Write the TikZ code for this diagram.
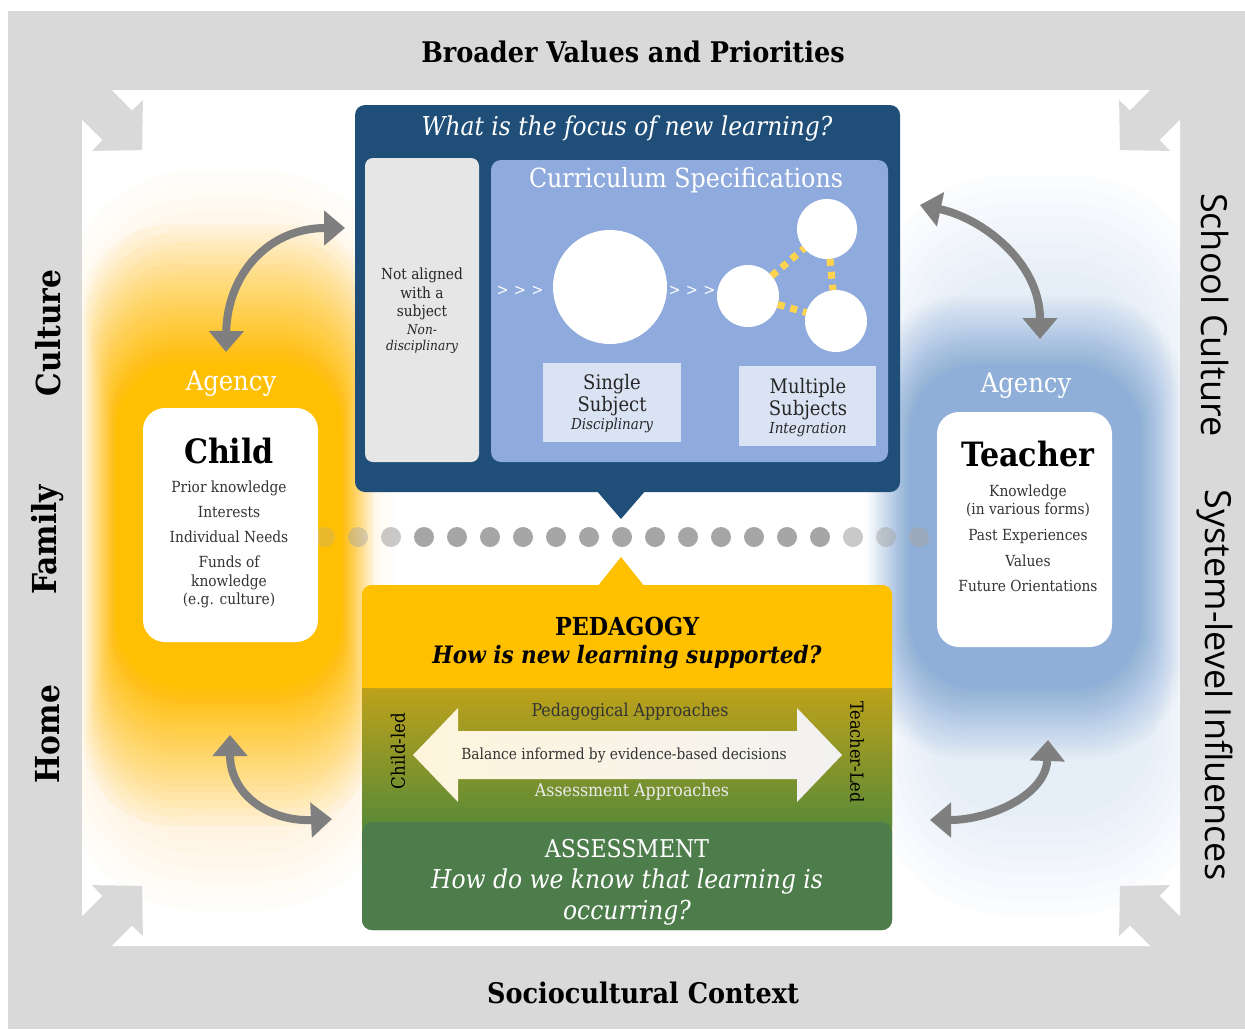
\documentclass[tikz,border=0pt]{standalone}
\usepackage{fontspec}
\setmainfont{DejaVu Serif Condensed}
\newfontfamily\sidesans{Open Sans}
\usetikzlibrary{arrows.meta}
\definecolor{framegrey}{HTML}{D9D9D9}
\definecolor{navy}{HTML}{1F4E79}
\definecolor{midblue}{HTML}{8FAADC}
\definecolor{lgbox}{HTML}{E7E6E6}
\definecolor{paleblue}{HTML}{DAE3F3}
\definecolor{dotgrey}{HTML}{A6A6A6}
\definecolor{gold}{HTML}{FFC000}
\definecolor{assessgreen}{HTML}{4E7D4C}
\definecolor{olivetop}{HTML}{BFA21A}
\definecolor{midgreen}{HTML}{5A8A37}
\definecolor{arrowgrey}{HTML}{7F7F7F}
\definecolor{glowblue}{HTML}{7FA7D8}
\definecolor{dotyellow}{HTML}{FFD34D}
\definecolor{creamy}{HTML}{FFF5DC}
\definecolor{offwhite}{HTML}{F2F2F2}
\begin{document}
\begin{tikzpicture}[x=1pt,y=-1pt,
  f15/.style={font=\fontsize{15.3}{18.5}\selectfont},
  f16/.style={font=\fontsize{16}{19}\selectfont},
  f17/.style={font=\fontsize{17.6}{21}\selectfont},
  f20/.style={font=\fontsize{20}{24}\selectfont},
  f34/.style={font=\bfseries\fontsize{33.5}{38}\selectfont},
  sidelabel/.style={font=\bfseries\fontsize{33}{38}\selectfont},
  rightlabel/.style={font=\sidesans\fontsize{36}{40}\selectfont},
  heading/.style={font=\bfseries\fontsize{28.4}{33}\selectfont},
  garrow/.style={draw=arrowgrey, line width=8pt,
     {Triangle[width=34pt,length=21pt]}-{Triangle[width=34pt,length=21pt]}},
  boxshape/.style={inner sep=0pt, outer sep=0pt},
  dotstyle/.style={circle, fill=dotgrey, minimum size=20pt, inner sep=0pt},
  cornerarrow/.style={fill=framegrey},
  whitecircle/.style={circle, fill=white, inner sep=0pt, outer sep=0pt},
  yellowdots/.style={draw=dotyellow, line width=7pt, dash pattern=on 7pt off 6pt}
]
\useasboundingbox (0,0) rectangle (1245,1029);
\fill[white] (0,0) rectangle (1245,1029);
\fill[framegrey] (8,11) rectangle (1245,1029);
\fill[white, rounded corners=12pt] (82,90) rectangle (1180,946);

% glows
\begin{scope}
\clip (82,90) rectangle (1180,946);
% broad faint bands
\foreach \k in {0,...,7} {
  \pgfmathsetmacro\a{165-7*\k}
  \pgfmathsetmacro\b{370-14*\k}
  \pgfmathsetmacro\r{0.8*\a}
  \fill[gold, fill opacity=0.02, rounded corners=\r pt] ({229-\a},{540-\b}) rectangle ({229+\a},{540+\b});
  \fill[glowblue, fill opacity=0.022, rounded corners=\r pt] ({1040-\a},{545-\b}) rectangle ({1040+\a},{545+\b});
}
% cores with linear fade
\foreach \k in {1,...,48} {
  \pgfmathsetmacro\t{(1-0.94^\k)/0.9486}
  \pgfmathsetmacro\ay{148-36*\t}
  \pgfmathsetmacro\by{310-150*\t}
  \pgfmathsetmacro\ry{0.6*\ay}
  \fill[gold, fill opacity=0.06, rounded corners=\ry pt] ({229-\ay},{525-\by}) rectangle ({229+\ay},{525+\by});
}
\foreach \k in {1,...,40} {
  \pgfmathsetmacro\t{(1-0.965^\k)/0.7594}
  \pgfmathsetmacro\ab{160-45*\t}
  \pgfmathsetmacro\bb{235-75*\t}
  \pgfmathsetmacro\rb{0.6*\ab}
  \fill[glowblue, fill opacity=0.035, rounded corners=\rb pt] ({1025-\ab},{527-\bb}) rectangle ({1025+\ab},{527+\bb});
}
\end{scope}

% corner arrows
\foreach \cx/\cy/\sx/\sy in {82/90/1/1,1180/90/-1/1,82/946/1/-1,1180/946/-1/-1} {
  \begin{scope}[shift={(\cx,\cy)}, xscale=\sx, yscale=\sy]
    \fill[cornerarrow] (4.2,-25.5) -- (50.2,20.5) -- (60.9,9.9) -- (60.1,60.1) -- (9.9,60.9) -- (20.5,50.2) -- (-25.5,4.2) -- cycle;
  \end{scope}
}

% frame labels
\node (broader) [heading] at (633,52) {Broader Values and Priorities};
\node (socio) [heading] at (643,993) {Sociocultural Context};
\node (culture) [sidelabel, rotate=90] at (48,333) {Culture};
\node (family) [sidelabel, rotate=90] at (48,540) {Family};
\node (home) [sidelabel, rotate=90] at (48,734) {Home};
\node (school) [rightlabel, rotate=-90] at (1215,315) {School Culture};
\node (system) [rightlabel, rotate=-90] at (1215,685) {System-level Influences};

% dots row
\foreach \k/\op in {0/0.25,1/0.45,2/0.6,3/1,4/1,5/1,6/1,7/1,8/1,9/1,10/1,11/1,12/1,13/1,14/1,15/1,16/0.6,17/0.5,18/0.55} {
  \node (dot\k) [dotstyle, fill opacity=\op] at ({325+33*\k},537) {};
}

% focus panel
\node (focuspanel) [boxshape, fill=navy, rounded corners=10pt, minimum width=545pt, minimum height=387pt] at (627.5,298.5) {};
\fill[navy] (596,490) -- (621,519) -- (646,490) -- cycle;
\node (focustitle) [font=\itshape\fontsize{26}{31}\selectfont, text=white] at (627,129) {What is the focus of new learning?};
\node (nonalign) [boxshape, fill=lgbox, rounded corners=8pt, minimum width=114pt, minimum height=304pt] at (422,310) {};
\node (nonaligntext) [f15, align=center, text=black!85] at (422,311) {Not aligned\\with a\\subject\\[-1pt]{\itshape\fontsize{13.5}{17}\selectfont Non-}\\[-2pt]{\itshape\fontsize{13.5}{17}\selectfont disciplinary}};
\node (curric) [boxshape, fill=midblue, rounded corners=10pt, minimum width=397pt, minimum height=302pt] at (689.5,311) {};
\node (curtitle) [font=\fontsize{26.4}{31}\selectfont, text=white] at (686,180) {Curriculum Specifications};
\node (chev1) [f16, text=white] at (520,291) {>\,\,>\,\,>};
\node (chev2) [f16, text=white] at (692,291) {>\,\,>\,\,>};
\node (bigc) [whitecircle, minimum size=114pt] at (610,287) {};
\node (c1) [whitecircle, minimum size=62pt] at (748,296) {};
\node (c2) [whitecircle, minimum size=60pt] at (827,229) {};
\node (c3) [whitecircle, minimum size=62pt] at (836,321) {};
\draw[yellowdots] (c1) -- (c2);
\draw[yellowdots] (c1) -- (c3);
\draw[yellowdots] (c2) -- (c3);
\node (single) [boxshape, fill=paleblue, minimum width=138pt, minimum height=79pt] at (612,402.5) {};
\node (singletext) [f20, align=center, text=black!85] at (612,404) {Single\\[-2pt]Subject\\[-6pt]{\itshape\fontsize{15}{18}\selectfont Disciplinary}};
\node (multi) [boxshape, fill=paleblue, minimum width=137pt, minimum height=80pt] at (807.5,406) {};
\node (multitext) [f20, align=center, text=black!85] at (808,408) {Multiple\\[-2pt]Subjects\\[-6pt]{\itshape\fontsize{15}{18}\selectfont Integration}};

% child and teacher
\node (agencyL) [font=\fontsize{27}{31}\selectfont, text=white] at (231,384) {Agency};
\node (child) [boxshape, fill=white, rounded corners=22pt, minimum width=175pt, minimum height=234pt] at (230.5,525) {};
\node (childtitle) [f34] at (229,451) {Child};
\node (ch1) [f15, text=black!80] at (229,488) {Prior knowledge};
\node (ch2) [f15, text=black!80] at (229,512) {Interests};
\node (ch3) [f15, text=black!80] at (229,537) {Individual Needs};
\node (ch4) [f15, text=black!80, align=center] at (229,582) {Funds of\\knowledge\\(e.g. culture)};
\node (agencyR) [font=\fontsize{27}{31}\selectfont, text=white] at (1026,386) {Agency};
\node (teacher) [boxshape, fill=white, rounded corners=22pt, minimum width=175pt, minimum height=235pt] at (1024.5,529.5) {};
\node (teachtitle) [f34] at (1028,454) {Teacher};
\node (t1) [f15, text=black!80, align=center] at (1028,501) {Knowledge\\(in various forms)};
\node (t2) [f15, text=black!80] at (1028,536) {Past Experiences};
\node (t3) [f15, text=black!80] at (1028,561) {Values};
\node (t4) [f15, text=black!80] at (1028,586) {Future Orientations};

% pedagogy panel
\node (pedpanel) [boxshape, rounded corners=10pt, top color=gold, bottom color=assessgreen, minimum width=530pt, minimum height=345pt] at (627,757.5) {};
\shade[top color=olivetop, bottom color=midgreen] (362,686) rectangle (892,826);
\node (pedtop) [boxshape, fill=gold, rounded corners=10pt, minimum width=530pt, minimum height=103pt] at (627,636.5) {};
\fill[gold] (362,660) rectangle (892,688);
\node (assess) [boxshape, fill=assessgreen, rounded corners=10pt, minimum width=530pt, minimum height=108pt] at (627,876) {};
\fill[gold] (597,587) -- (621,557) -- (645,587) -- cycle;
\node (pedtitle) [font=\bfseries\fontsize{24.8}{29}\selectfont] at (627,626) {PEDAGOGY};
\node (pedq) [font=\bfseries\itshape\fontsize{24}{29}\selectfont] at (627,657) {How is new learning supported?};
\shade[left color=creamy, right color=offwhite] (413,755) -- (458,708) -- (458,731) -- (797,731) -- (797,708) -- (842,755) -- (797,802) -- (797,779) -- (458,779) -- (458,802) -- cycle;
\node (pedapp) [f17, text=black!80] at (630,712) {Pedagogical Approaches};
\node (balance) [font=\fontsize{15.3}{18}\selectfont, text=black!80] at (624,755) {Balance informed by evidence-based decisions};
\node (assapp) [f17, text=white!92!black] at (632,792) {Assessment Approaches};
\node (childled) [font=\fontsize{18.5}{21}\selectfont, rotate=90] at (398,751) {Child-led};
\node (teacherled) [font=\fontsize{18}{21}\selectfont, rotate=-90] at (857,752) {Teacher-Led};
\node (asstitle) [font=\fontsize{24.5}{29}\selectfont, text=white] at (627,849) {ASSESSMENT};
\node (assq) [font=\itshape\fontsize{26}{31}\selectfont, text=white, align=center] at (627,897) {How do we know that learning is\\occurring?};

% curved arrows
\coordinate (tlA) at (226,352); \coordinate (tlB) at (345,228);
\draw[garrow] (tlA) .. controls (227,275) and (268,228) .. (tlB);
\coordinate (trA) at (920,205); \coordinate (trB) at (1040,339);
\draw[garrow] (trA) .. controls (982,218) and (1040,262) .. (trB);
\coordinate (blA) at (230,735); \coordinate (blB) at (332,819);
\draw[garrow] (blA) .. controls (230,795) and (270,822) .. (blB);
\coordinate (brA) at (930,820); \coordinate (brB) at (1048,740);
\draw[garrow] (brA) .. controls (990,820) and (1046,795) .. (brB);
\end{tikzpicture}
\end{document}
